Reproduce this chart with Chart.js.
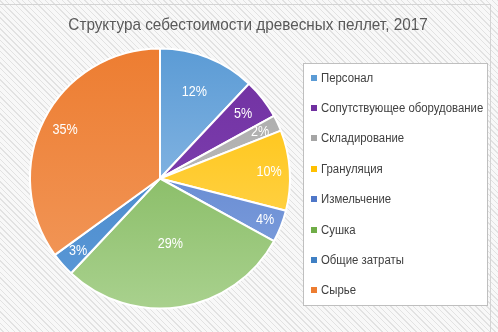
<!DOCTYPE html>
<html lang="ru">
<head>
<meta charset="utf-8">
<title>Структура себестоимости древесных пеллет, 2017</title>
<script src="https://cdn.jsdelivr.net/npm/chart.js@4.4.1/dist/chart.umd.min.js"></script>
<style>
  html, body { margin: 0; padding: 0; }
  body {
    width: 498px; height: 332px; overflow: hidden; position: relative;
    background: repeating-linear-gradient(45deg, #f8f8f8 0 2px, #e2e2e2 2px 3px, #f8f8f8 3px 4px);
  }
  #frame {
    position: absolute; left: 0; top: 4px; width: 491px; height: 340px;
    border-top: 1px solid #d4d4d4; border-right: 1px solid #d4d4d4; box-sizing: border-box;
  }
  #chart { position: absolute; left: 0; top: 0; }
</style>
</head>
<body>
<div id="frame"></div>
<canvas id="chart" width="498" height="332"></canvas>
<script>
// Cost structure of wood pellets, 2017 (percent)
const chartTitle = 'Структура себестоимости древесных пеллет, 2017';
const categories = [
  'Персонал',
  'Сопутствующее оборудование',
  'Складирование',
  'Грануляция',
  'Измельчение',
  'Сушка',
  'Общие затраты',
  'Сырье'
];
const shares = [12, 5, 2, 10, 4, 29, 3, 35];

// fill colours: darker tone at the top of the pie, lighter at the bottom
const baseColors  = ['#5B9BD5', '#7030A0', '#A5A5A5', '#FFC000', '#4F77C8', '#70AD47', '#3F80C4', '#ED7D31'];
const lightColors = ['#A3C8EC', '#8447B8', '#C9C9C9', '#FFD966', '#86A5E0', '#A9D18E', '#5C9AD8', '#F29A5E'];

// how far out along the radius each percentage label sits
const labelRadius = [0.72, 0.81, 0.85, 0.84, 0.87, 0.51, 0.84, 0.82];

const FONT = '"Liberation Sans", Arial, sans-serif';

function sliceFill(ctx) {
  const area = ctx.chart.chartArea;
  if (!area) return baseColors[ctx.dataIndex];
  const g = ctx.chart.ctx.createLinearGradient(0, area.top, 0, area.bottom);
  g.addColorStop(0, baseColors[ctx.dataIndex]);
  g.addColorStop(1, lightColors[ctx.dataIndex]);
  return g;
}

// text drawn slightly condensed, like a narrow sans face
function narrowText(ctx, text, x, y, squeeze) {
  ctx.save();
  ctx.translate(x, y);
  ctx.scale(squeeze, 1);
  ctx.fillText(text, 0, 0);
  ctx.restore();
}

const percentLabels = {
  id: 'percentLabels',
  afterDatasetsDraw(chart) {
    const ctx = chart.ctx;
    const meta = chart.getDatasetMeta(0);
    ctx.save();
    ctx.font = '15px ' + FONT;
    ctx.fillStyle = '#ffffff';
    ctx.textAlign = 'center';
    ctx.textBaseline = 'middle';
    meta.data.forEach((arc, i) => {
      const p = arc.getProps(['x', 'y', 'startAngle', 'endAngle', 'outerRadius'], true);
      const mid = (p.startAngle + p.endAngle) / 2;
      const r = p.outerRadius * labelRadius[i];
      narrowText(ctx, shares[i] + '%', p.x + Math.cos(mid) * r, p.y + Math.sin(mid) * r, 0.84);
    });
    ctx.restore();
  }
};

// centred heading across the whole canvas
const heading = {
  id: 'heading',
  afterDraw(chart) {
    const ctx = chart.ctx;
    ctx.save();
    ctx.font = '17px ' + FONT;
    ctx.fillStyle = '#595959';
    ctx.textAlign = 'center';
    ctx.textBaseline = 'middle';
    narrowText(ctx, chartTitle, 248, 25, 0.9);
    ctx.restore();
  }
};

const boxedLegend = {
  id: 'boxedLegend',
  afterDraw(chart) {
    const ctx = chart.ctx;
    const left = 303.5, top = 63.5, width = 184, height = 242;
    ctx.save();
    ctx.fillStyle = '#ffffff';
    ctx.fillRect(left, top, width, height);
    ctx.strokeStyle = '#bfbfbf';
    ctx.lineWidth = 1;
    ctx.strokeRect(left, top, width, height);
    ctx.font = '12.5px ' + FONT;
    ctx.textBaseline = 'middle';
    ctx.textAlign = 'left';
    chart.data.labels.forEach((label, i) => {
      const y = Math.round(77.5 + i * 30.4);
      ctx.fillStyle = baseColors[i];
      ctx.fillRect(311, y - 3, 6, 6);
      ctx.fillStyle = '#404040';
      narrowText(ctx, label, 321, y + 0.5, 0.91);
    });
    ctx.restore();
  }
};

new Chart(document.getElementById('chart'), {
  type: 'pie',
  data: {
    labels: categories,
    datasets: [{
      data: shares,
      backgroundColor: sliceFill,
      borderColor: '#ffffff',
      borderWidth: 2
    }]
  },
  options: {
    responsive: false,
    devicePixelRatio: 1,
    animation: false,
    layout: { padding: { left: 29, right: 207, top: 47, bottom: 22 } },
    plugins: {
      legend: { display: false },
      tooltip: { enabled: false },
      title: { display: false }
    }
  },
  plugins: [percentLabels, heading, boxedLegend]
});
</script>
</body>
</html>
